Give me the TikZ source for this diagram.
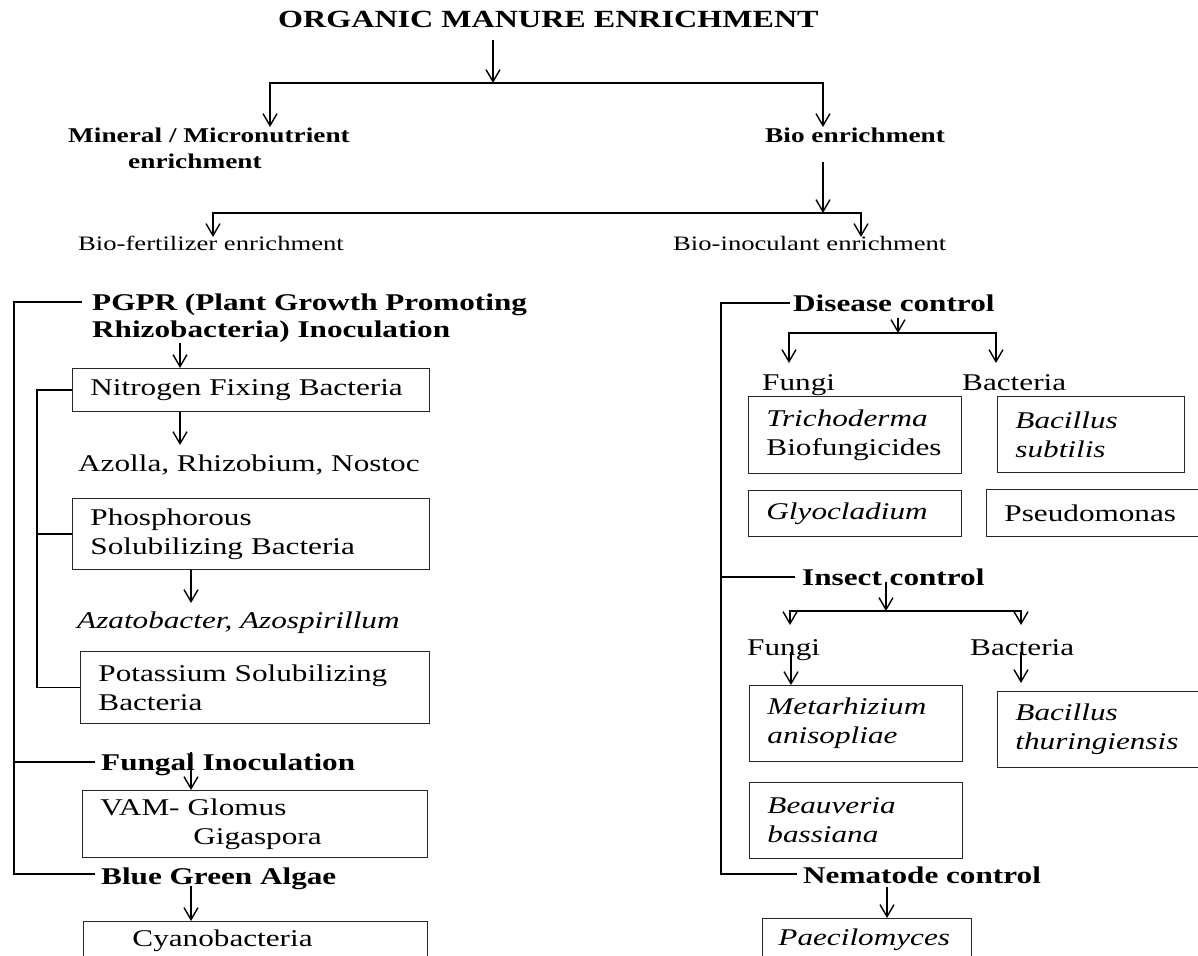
\documentclass[tikz,border=0pt]{standalone}
\usepackage{fontspec}
\setmainfont[FakeStretch=1.3]{Liberation Serif}
\usetikzlibrary{arrows.meta}

\begin{document}
\begin{tikzpicture}[
        x=1pt, y=-1pt,
        font=\fontsize{24}{29}\selectfont,
        lbl/.style={inner sep=0pt, anchor=base west, align=left},
        head/.style={lbl, font=\fontsize{24}{27}\selectfont\bfseries},
        fbox/.style={rectangle, draw=black!85, line width=0.9pt, anchor=north west, inner xsep=18pt, inner ysep=0pt, align=left},
        ibox/.style={fbox, font=\fontsize{24}{29}\selectfont\itshape},
        arr/.style={-{Straight Barb[length=12pt,width=14pt]}, line width=1.4pt},
        ln/.style={line width=1.8pt}
    ]

        \path[fill=white, use as bounding box] (0,0) rectangle (1198,955);

        % Top levels
        \node[lbl, font=\fontsize{24.7}{30}\selectfont\bfseries] (title) at (278,28) {ORGANIC MANURE ENRICHMENT};
        \node[lbl, font=\fontsize{21}{26}\selectfont\bfseries] (mineral) at (68,168) {Mineral / Micronutrient\\\hspace*{60pt}enrichment};
        \node[lbl, font=\fontsize{21}{26}\selectfont\bfseries] (bioen) at (765,142) {Bio enrichment};
        \node[lbl, font=\fontsize{20.5}{24}\selectfont] (biofert) at (78,250) {Bio-fertilizer enrichment};
        \node[lbl, font=\fontsize{20.5}{24}\selectfont] (bioinoc) at (673,250) {Bio-inoculant enrichment};

        \coordinate (t0) at (493,40);
        \coordinate (t1) at (493,83);
        \coordinate (mi) at (270,127);
        \coordinate (bi) at (823,127);
        \draw[arr] (t0) -- (t1);
        \draw[arr] (t1) -| (mi);
        \draw[arr] (t1) -| (bi);

        \coordinate (b0) at (823,162);
        \coordinate (b1) at (823,213);
        \coordinate (bf) at (213,237);
        \coordinate (bn) at (861,237);
        \draw[arr] (b0) -- (b1);
        \draw[arr] (b1) -| (bf);
        \draw[arr] (b1) -| (bn);

        % Bio-fertilizer side
        \node[head] (pgpr) at (92,337) {PGPR (Plant Growth Promoting\\Rhizobacteria) Inoculation};
        \node[fbox, text width=321pt, minimum height=43pt] (nitro) at (72,368) {Nitrogen Fixing Bacteria};
        \node[lbl] (azolla) at (78,471) {Azolla, Rhizobium, Nostoc};
        \node[fbox, text width=321pt, minimum height=71pt] (phos) at (72,498) {Phosphorous\\Solubilizing Bacteria};
        \node[lbl, font=\fontsize{24}{29}\selectfont\itshape] (azato) at (77,628) {Azatobacter, Azospirillum};
        \node[fbox, text width=313pt, minimum height=72pt] (potas) at (80,651) {Potassium Solubilizing\\Bacteria};
        \node[head] (fung) at (101,770) {Fungal Inoculation};
        \node[fbox, text width=309pt, minimum height=67pt] (vam) at (82,790) {VAM- Glomus\\\hspace*{93pt}Gigaspora};
        \node[head] (bga) at (101,884) {Blue Green Algae};
        \node[fbox, text width=308pt, minimum height=39pt] (cyano) at (83,921) {\hspace*{31pt}Cyanobacteria};

        \coordinate (a0) at (180,343);
        \coordinate (a1) at (180,445);
        \coordinate (a2) at (191,603);
        \coordinate (a3) at (191,752);
        \coordinate (a4) at (191,886);
        \draw[arr] (a0) -- (a0 |- nitro.north);
        \draw[arr] (nitro.south -| a1) -- (a1);
        \draw[arr] (phos.south -| a2) -- (a2);
        \draw[arr] (a3) -- (a3 |- vam.north);
        \draw[arr] (a4) -- (a4 |- cyano.north);

        \draw[ln] (nitro.west) -- ++(-35,0) |- (potas.west);
        \draw[ln] (phos.west) -- ++(-35,0);

        \coordinate (spL) at (14,0);
        \coordinate (sPg) at ([xshift=-10pt,yshift=35pt]pgpr.base west);
        \coordinate (sFu) at ([xshift=-6pt,yshift=8pt]fung.base west);
        \coordinate (sBg) at ([xshift=-6pt,yshift=10pt]bga.base west);
        \draw[ln] (sPg) -| (spL |- sBg) -- (sBg);
        \draw[ln] (spL |- sFu) -- (sFu);

        % Bio-inoculant side
        \node[head] (dis) at (793,311) {Disease control};
        \node[lbl] (dfun) at (762,390) {Fungi};
        \node[lbl] (dbac) at (962,390) {Bacteria};
        \node[fbox, text width=177pt, minimum height=77pt] (trich) at (748,396) {\textit{Trichoderma}\\Biofungicides};
        \node[ibox, text width=151pt, minimum height=76pt] (bsub) at (997,396) {Bacillus\\subtilis};
        \node[ibox, text width=177pt, minimum height=46pt] (glyo) at (748,490) {Glyocladium};
        \node[fbox, text width=188pt, minimum height=47pt] (pseudo) at (986,489) {Pseudomonas};
        \node[head] (ins) at (802,585) {Insect control};
        \node[lbl] (ifun) at (747,655) {Fungi};
        \node[lbl] (ibac) at (970,655) {Bacteria};
        \node[ibox, text width=177pt, minimum height=76pt] (meta) at (749,685) {Metarhizium\\anisopliae};
        \node[ibox, text width=177pt, minimum height=76pt] (bthur) at (997,691) {Bacillus\\thuringiensis};
        \node[ibox, text width=177pt, minimum height=76pt] (beau) at (749,782) {Beauveria\\bassiana};
        \node[head] (nem) at (803,883) {Nematode control};
        \node[ibox, text width=177pt, minimum height=42pt, inner xsep=16pt] (paec) at (762,918) {Paecilomyces};

        \coordinate (d0) at (898,318);
        \coordinate (d1) at (898,333);
        \coordinate (dF) at (789,363);
        \coordinate (dB) at (996,363);
        \draw[arr] (d0) -- (d1);
        \draw[arr] (d1) -| (dF);
        \draw[arr] (d1) -| (dB);

        \coordinate (i0) at (886,582);
        \coordinate (i1) at (886,611);
        \coordinate (iF) at (790,625);
        \coordinate (iB) at (1021,625);
        \draw[arr] (i0) -- (i1);
        \draw[arr] (i1) -| (iF);
        \draw[arr] (i1) -| (iB);
        \coordinate (iF2) at (791,652);
        \coordinate (iB2) at (1021,652);
        \draw[arr] (iF2) -- (iF2 |- meta.north);
        \draw[arr] (iB2) -- ++(0,31);

        \coordinate (n0) at (887,887);
        \draw[arr] (n0) -- (n0 |- paec.north);

        \coordinate (spR) at (721,0);
        \coordinate (sDi) at ([xshift=-3pt,yshift=8pt]dis.base west);
        \coordinate (sIn) at ([xshift=-7pt,yshift=8pt]ins.base west);
        \coordinate (sNe) at ([xshift=-6pt,yshift=9pt]nem.base west);
        \draw[ln] (sDi) -| (spR |- sNe) -- (sNe);
        \draw[ln] (spR |- sIn) -- (sIn);

    \end{tikzpicture}
\end{document}
